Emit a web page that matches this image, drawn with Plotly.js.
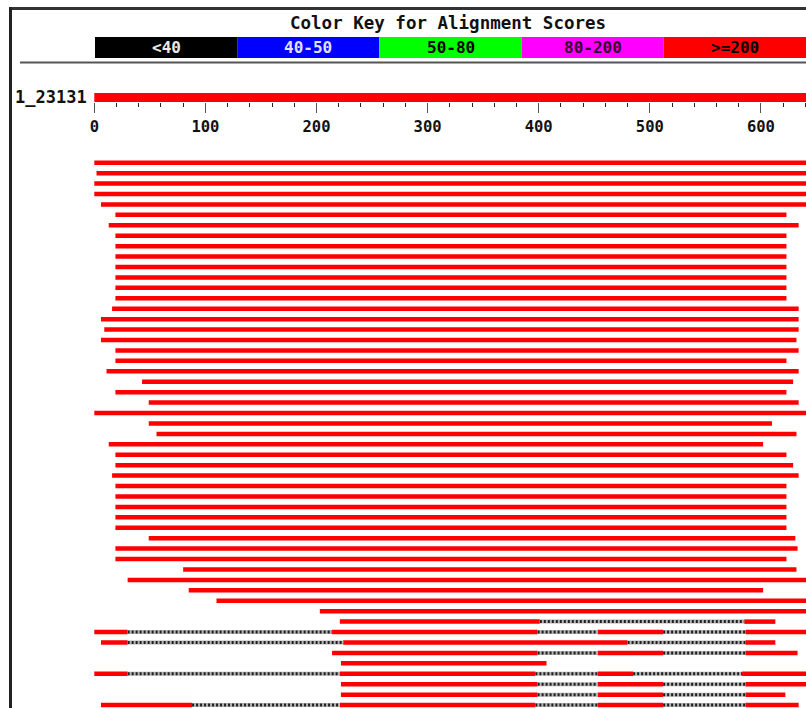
<!DOCTYPE html>
<html>
<head>
<meta charset="utf-8">
<script src="https://cdn.plot.ly/plotly-3.0.1.min.js"></script>
<style>html,body{margin:0;padding:0;background:#fff;}#chart{width:806px;height:708px;}</style>
</head>
<body>
<div id="chart"></div>
<script>
// ---------------- data ----------------
const chartTitle = "Color Key for Alignment Scores";
const keyLabels = ["<40", "40-50", "50-80", "80-200", ">=200"];
const keyColors = ["#000000", "#0000ff", "#00ff00", "#ff00ff", "#ff0000"];
const keyTextColors = ["#e8e8e8", "#e0e0ff", "#000000", "#300030", "#000000"];

const queryName = "1_23131";
const queryStart = 0;
const queryEnd = 650;

const majorTicks = [0, 100, 200, 300, 400, 500, 600];
const minorTicks = [20, 40, 60, 80, 120, 140, 160, 180, 220, 240, 260, 280, 320, 340, 360, 380,
                    420, 440, 460, 480, 520, 540, 560, 580, 620, 640];

// one alignment (hit) per row, top to bottom, in query coordinates
const hitStart = [0, 2, 0, 0, 6, 19, 13, 19, 19, 19, 19, 19, 19, 19, 16, 6, 9, 6, 19, 19,
                  11, 43, 19, 49, 0, 49, 56, 13, 19, 19, 16, 19, 19, 19, 19, 19, 49, 19, 19, 80,
                  30, 85, 110, 203, 221, 0, 6, 214, 222, 0, 222, 222, 6];
const hitEnd   = [650, 650, 650, 650, 650, 623, 634, 623, 623, 623, 623, 623, 623, 623, 634, 634, 634, 632, 634, 623,
                  634, 629, 623, 634, 650, 610, 632, 602, 623, 629, 634, 623, 623, 623, 623, 623, 631, 633, 623, 632,
                  650, 602, 650, 650, 613, 650, 613, 633, 407, 650, 650, 622, 634];

// unaligned (gap) stretches inside hits
const gapRow   = [44, 45, 45, 45, 46, 46, 47, 47, 49, 49, 49, 50, 50, 51, 51, 52, 52, 52];
const gapStart = [401, 30, 399, 512, 30, 480, 399, 512, 30, 397, 485, 399, 512, 399, 512, 88, 397, 512];
const gapEnd   = [585, 214, 453, 586, 224, 586, 453, 586, 221, 453, 583, 453, 586, 453, 586, 221, 453, 586];

// ---------------- layout helpers ----------------
const W = 806, H = 708;
const X0PX = 94.3, PXPU = 1.111;          // ruler: unit 0 pixel, pixels per unit
const ROW0PX = 162.7, ROWPX = 10.43;       // first hit row pixel, row spacing
const px = x => x / W;
const py = y => 1 - y / H;
const queryRow = (97.5 - ROW0PX) / ROWPX;

// red segments = hit extent minus gaps
const redX = [], redY = [], gapX = [], gapY = [];
hitStart.forEach((s, i) => {
  let segs = [[s, hitEnd[i]]];
  gapRow.forEach((r, g) => {
    if (r !== i) return;
    const out = [];
    segs.forEach(([a, b]) => {
      if (gapEnd[g] <= a || gapStart[g] >= b) { out.push([a, b]); return; }
      if (gapStart[g] > a) out.push([a, gapStart[g]]);
      if (gapEnd[g] < b) out.push([gapEnd[g], b]);
    });
    segs = out;
  });
  segs.forEach(([a, b]) => { redX.push(a, b, null); redY.push(i, i, null); });
});
gapRow.forEach((r, g) => { gapX.push(gapStart[g], gapEnd[g], null); gapY.push(r, r, null); });

const traces = [
  { type: "scatter", mode: "lines", x: [queryStart, queryEnd], y: [queryRow, queryRow],
    line: { color: "#ff0000", width: 9 }, hoverinfo: "skip" },
  { type: "scatter", mode: "lines", x: redX, y: redY,
    line: { color: "#ff0000", width: 4.5 }, hoverinfo: "skip" },
  { type: "scatter", mode: "lines", x: gapX, y: gapY,
    line: { color: "#b4b4b4", width: 4 }, hoverinfo: "skip" },
  { type: "scatter", mode: "lines", x: gapX, y: gapY,
    line: { color: "#202020", width: 3, dash: "2px,2px" }, hoverinfo: "skip" }
];

const FONT = "DejaVu Sans Mono";
const shapes = [], annotations = [];
// frame
shapes.push({ type: "line", xref: "paper", yref: "paper", x0: px(9), x1: px(W), y0: py(8.5), y1: py(8.5),
              line: { color: "#333", width: 3 } });
shapes.push({ type: "line", xref: "paper", yref: "paper", x0: px(10.5), x1: px(10.5), y0: py(7), y1: py(H),
              line: { color: "#222", width: 3 } });
// separator under key
shapes.push({ type: "line", xref: "paper", yref: "paper", x0: px(20), x1: px(W), y0: py(62.5), y1: py(62.5),
              line: { color: "#555", width: 2 } });
// color key
const keyL = 95, keyW = 142.2, keyTop = 37, keyBot = 58;
keyLabels.forEach((lab, k) => {
  const a = keyL + k * keyW, b = a + keyW;
  shapes.push({ type: "rect", xref: "paper", yref: "paper", x0: px(a), x1: px(b), y0: py(keyBot), y1: py(keyTop),
                fillcolor: keyColors[k], line: { width: 0 } });
  annotations.push({ xref: "paper", yref: "paper", x: px((a + b) / 2), y: py(47.5), text: lab, showarrow: false,
                     xanchor: "center", yanchor: "middle",
                     font: { family: FONT, size: 16, color: keyTextColors[k], weight: "bold" } });
});
annotations.push({ xref: "paper", yref: "paper", x: px(448), y: py(23), text: chartTitle, showarrow: false,
                   xanchor: "center", yanchor: "middle",
                   font: { family: FONT, size: 17.5, color: "#111", weight: "bold" } });
annotations.push({ xref: "paper", yref: "paper", x: px(89), y: py(97), text: queryName, showarrow: false,
                   xanchor: "right", yanchor: "middle",
                   font: { family: FONT, size: 17, color: "#111", weight: "bold" } });

const layout = {
  width: W, height: H,
  margin: { l: 0, r: 0, t: 0, b: 0, pad: 0 },
  paper_bgcolor: "#fff", plot_bgcolor: "#fff",
  showlegend: false,
  xaxis: {
    domain: [0, 1], range: [-X0PX / PXPU, (W - X0PX) / PXPU],
    anchor: "free", position: py(102), side: "bottom",
    showgrid: false, zeroline: false, showline: false,
    tickmode: "array", tickvals: majorTicks, ticktext: majorTicks.map(String),
    ticks: "outside", ticklen: 10, tickwidth: 1, tickcolor: "#555",
    tickfont: { family: FONT, size: 15.5, color: "#111", weight: "bold" },
    minor: { tickmode: "array", tickvals: minorTicks, ticks: "outside", ticklen: 4, tickwidth: 1, tickcolor: "#222", showgrid: false },
    fixedrange: true
  },
  yaxis: {
    domain: [0, 1], range: [(H - ROW0PX) / ROWPX, -ROW0PX / ROWPX],
    visible: false, showgrid: false, zeroline: false, fixedrange: true
  },
  shapes: shapes,
  annotations: annotations
};

Plotly.newPlot("chart", traces, layout, { displayModeBar: false, staticPlot: true });
</script>
</body>
</html>
